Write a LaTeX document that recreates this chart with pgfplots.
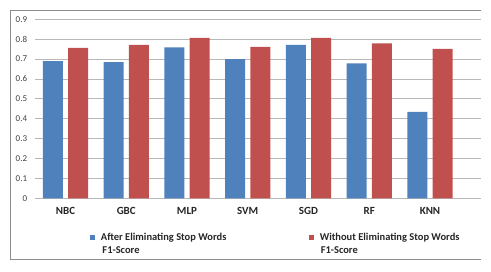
\documentclass[border=0pt]{standalone}
\usepackage{pgfplots}
\pgfplotsset{compat=1.18}
\usepackage{fontspec}
\setmainfont{Carlito}
\definecolor{blueC}{HTML}{4F81BD}
\definecolor{redC}{HTML}{C0504D}
\begin{document}
\begin{tikzpicture}[x=1bp,y=1bp]
\useasboundingbox (0,0) rectangle (491,271);
\draw[black!45, line width=0.8bp] (481,261) -- (10.3,261) -- (10.3,11.7) -- (481,11.7);
\begin{axis}[
  at={(35.1bp,72.7bp)}, anchor=south west, scale only axis,
  width=445.9bp, height=179bp,
  xmin=-0.5, xmax=6.84, ymin=0, ymax=0.9,
  clip=false,
  ybar, bar width=20bp,
  ytick={0,0.1,0.2,0.3,0.4,0.5,0.6,0.7,0.8,0.9},
  xtick={0,1,2,3,4,5,6},
  xticklabels={NBC,GBC,MLP,SVM,SGD,RF,KNN},
  ymajorgrids, major grid style={draw=black!28, line width=0.8bp},
  axis line style={draw=none}, major tick length=0pt, tick style={draw=none},
  /pgf/number format/assume math mode=true,
  /pgf/number format/fixed, /pgf/number format/precision=1,
  yticklabel style={font=\fontsize{9}{10}\selectfont, text=black!75, inner sep=0pt, xshift=-7.8bp},
  xticklabel style={font=\bfseries\fontsize{11}{12}\selectfont, text=black!85, inner sep=0pt, anchor=north, yshift=-9.3bp},
  legend columns=2,
  legend style={at={(rel axis cs:0.1231,-0.1855)}, anchor=north west, draw=none, fill=none,
    inner sep=0pt, outer sep=0pt, text=black!85,
    font=\bfseries\fontsize{10.5}{13}\selectfont,
    cells={anchor=base west, inner sep=0pt},
    /tikz/every odd column/.append style={column sep=3.5bp}},
  legend image code/.code={\fill[#1] (0bp,0.6bp) rectangle (5.5bp,6.1bp);},
]
\addplot[fill=blueC, draw=none, bar shift=-12.65bp] coordinates {
  (0,0.690) (1,0.685) (2,0.759) (3,0.700) (4,0.771) (5,0.679) (6,0.435)};
\addlegendentry{\vtop{\baselineskip=13bp\hbox to 205.8bp{After Eliminating Stop Words\hfil}\hbox{\kern1.5bp F1-Score}}}
\addplot[fill=redC, draw=none, bar shift=12.65bp] coordinates {
  (0,0.756) (1,0.772) (2,0.807) (3,0.761) (4,0.806) (5,0.779) (6,0.751)};
\addlegendentry{\vtop{\baselineskip=13bp\hbox{Without Eliminating Stop Words}\hbox{\kern1bp F1-Score}}}
\end{axis}
\end{tikzpicture}
\end{document}
